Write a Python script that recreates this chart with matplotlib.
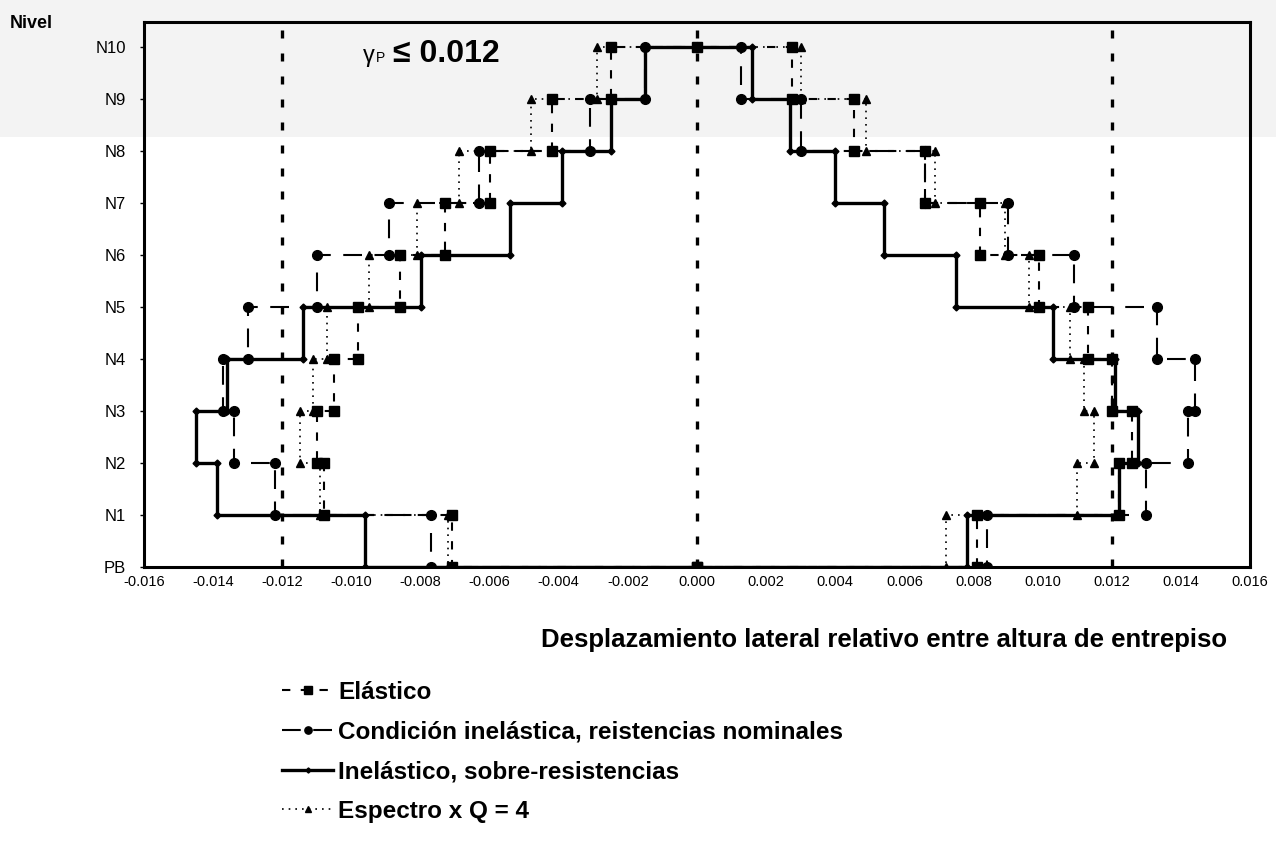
import matplotlib
matplotlib.use('Agg')
import matplotlib.pyplot as plt
from matplotlib.patches import Rectangle

plt.rcParams['font.family'] = ['Liberation Sans', 'DejaVu Sans']

# story drifts (story 1 = PB-N1 ... story 10 = N9-N10)
niveles = ['PB', 'N1', 'N2', 'N3', 'N4', 'N5', 'N6', 'N7', 'N8', 'N9', 'N10']
xticks = [-0.016, -0.014, -0.012, -0.010, -0.008, -0.006, -0.004, -0.002, 0.0,
          0.002, 0.004, 0.006, 0.008, 0.010, 0.012, 0.014, 0.016]
limite = 0.012

elastico_izq = [-0.0071, -0.0108, -0.0110, -0.0105, -0.0098, -0.0086, -0.0073, -0.0060, -0.0042, -0.0025]
elastico_der = [0.0081, 0.0122, 0.0126, 0.0120, 0.0113, 0.0099, 0.0082, 0.0066, 0.00455, 0.00275]
nominal_izq = [-0.0077, -0.0122, -0.0134, -0.0137, -0.0130, -0.0110, -0.0089, -0.0063, -0.0031, -0.0015]
nominal_der = [0.0084, 0.0130, 0.0142, 0.0144, 0.0133, 0.0109, 0.0090, 0.0066, 0.0030, 0.00127]
sobre_izq = [-0.0096, -0.0139, -0.0145, -0.0136, -0.0114, -0.0080, -0.0054, -0.0039, -0.0025, -0.0015]
sobre_der = [0.0078, 0.0122, 0.01275, 0.0121, 0.0103, 0.0075, 0.0054, 0.0040, 0.0027, 0.0016]
espectro_izq = [-0.0072, -0.0109, -0.0115, -0.0111, -0.0107, -0.0095, -0.0081, -0.0069, -0.0048, -0.0029]
espectro_der = [0.0072, 0.0110, 0.0115, 0.0112, 0.0108, 0.0096, 0.0089, 0.0069, 0.0049, 0.0030]


def perfil(izq, der):
    xs, ys = [0.0], [0]
    for i, v in enumerate(izq):
        xs += [v, v]
        ys += [i, i + 1]
    xs.append(0.0)
    ys.append(len(izq))
    for i in range(len(der) - 1, -1, -1):
        xs += [der[i], der[i]]
        ys += [i + 1, i]
    xs.append(0.0)
    ys.append(0)
    return xs, ys


fig = plt.figure(figsize=(12.76, 8.58), dpi=100)
fig.patches.append(Rectangle((0, 1 - 137 / 858), 1, 137 / 858, transform=fig.transFigure,
                             facecolor='#f3f3f3', edgecolor='none', zorder=-10))
ax = fig.add_axes([144 / 1276, 1 - 567 / 858, (1250 - 144) / 1276, (567 - 22) / 858])
ax.set_facecolor('none')

for xv in (-limite, 0.0, limite):
    ax.axvline(xv, color='black', lw=2.4, ls=(0, (2.4, 4.5)), zorder=1)

x, y = perfil(espectro_izq, espectro_der)
ax.plot(x, y, color='black', lw=1.2, ls=(0, (1, 3)), marker='^', ms=6, zorder=2,
        label='Espectro x Q = 4')
x, y = perfil(elastico_izq, elastico_der)
ax.plot(x, y, color='black', lw=1.5, ls=(0, (4, 5)), marker='s', ms=7, zorder=3,
        label='Elástico')
x, y = perfil(nominal_izq, nominal_der)
ax.plot(x, y, color='black', lw=1.5, ls=(0, (9, 6)), marker='o', ms=7, zorder=4,
        label='Condición inelástica, reistencias nominales')
x, y = perfil(sobre_izq, sobre_der)
ax.plot(x, y, color='black', lw=2.4, ls='-', marker='D', ms=3.5, zorder=5,
        label='Inelástico, sobre-resistencias')

ax.set_xlim(-0.016, 0.016)
ax.set_ylim(0, 10.48)
ax.set_xticks(xticks)
ax.set_xticklabels([f'{v:.3f}' for v in xticks])
ax.set_yticks(range(len(niveles)))
ax.set_yticklabels(niveles)
ax.tick_params(axis='x', length=0, pad=6, labelsize=10.5)
ax.tick_params(axis='y', length=3, width=1, pad=10, labelsize=12)
for s in ax.spines.values():
    s.set_linewidth(2.2)

ax.text(-0.00968, 9.72, 'γ', fontsize=17, ha='left', va='baseline')
ax.text(-0.00928, 9.72, 'P', fontsize=10, ha='left', va='baseline')
ax.text(-0.0088, 9.72, '≤ 0.012', fontsize=23, fontweight='bold', ha='left', va='baseline')

fig.text(10 / 1276, 1 - 24 / 858, 'Nivel', fontsize=13, fontweight='bold', ha='left', va='center')
fig.text(884 / 1276, 1 - 640 / 858, 'Desplazamiento lateral relativo entre altura de entrepiso',
         fontsize=18.5, fontweight='bold', ha='center', va='center')

h, l = ax.get_legend_handles_labels()
orden = [1, 2, 3, 0]
fig.legend([h[i] for i in orden], [l[i] for i in orden], loc='upper left',
           bbox_to_anchor=(282 / 1276, 1 - 681 / 858), frameon=False,
           prop={'size': 17.5, 'weight': 'bold'}, handlelength=2.1, handletextpad=0.2,
           labelspacing=0.68, markerscale=0.75, borderaxespad=0, borderpad=0)

fig.savefig('out.png', dpi=100)
